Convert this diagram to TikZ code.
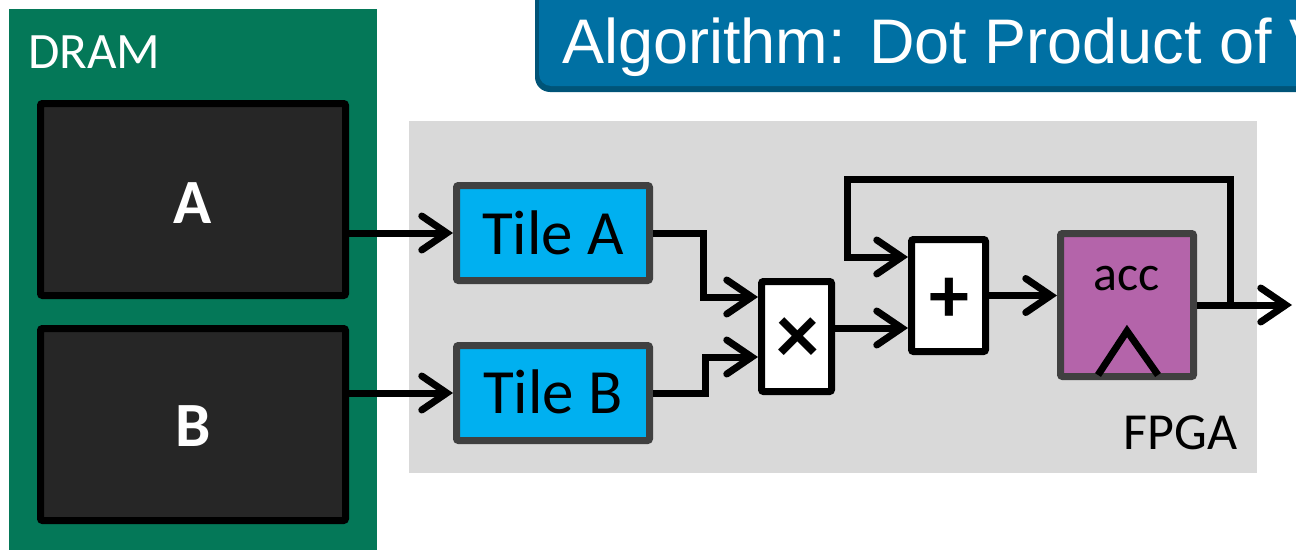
\documentclass[tikz,border=0pt]{standalone}
\usepackage{fontspec}
\setmainfont{Carlito}
\newfontfamily\titlefont{Liberation Sans}
\usetikzlibrary{arrows.meta,calc}

\definecolor{dramgreen}{RGB}{4,120,88}
\definecolor{memfill}{RGB}{38,38,38}
\definecolor{fpgagray}{RGB}{217,217,217}
\definecolor{tileblue}{RGB}{0,176,240}
\definecolor{edgegray}{RGB}{64,64,64}
\definecolor{accpurple}{RGB}{180,100,170}
\definecolor{titleblue}{RGB}{0,112,163}
\definecolor{titleedge}{RGB}{0,84,120}

\newcommand{\fsz}[1]{\fontsize{#1pt}{#1pt}\selectfont}

\begin{document}
\begin{tikzpicture}[x=1pt,y=-1pt,
  wire/.style={line width=7pt},
  arr/.style={wire,-{Straight Barb[length=25pt,width=34pt,line cap=round]}},
  region/.style={inner sep=0pt,anchor=north west},
  memblock/.style={draw=black,fill=memfill,line width=7pt,rounded corners=2pt,
    minimum width=305pt,minimum height=192pt,inner sep=0pt},
  tilebox/.style={draw=edgegray,fill=tileblue,line width=7pt,rounded corners=2pt,
    minimum width=193pt,minimum height=95pt,inner sep=0pt},
  opbox/.style={draw=black,fill=white,line width=7pt,rounded corners=2pt,inner sep=0pt},
  lbl/.style={inner sep=0pt,anchor=base},
]
\useasboundingbox (0,0) rectangle (1296,549);

% title banner, running off the top and right edges
\fill[titleedge,rounded corners=15pt] (535,-40) rectangle (1340,92);
\fill[titleblue,rounded corners=12pt] (539,-40) rectangle (1340,86);
\node[inner sep=0pt,anchor=base west,text=white,font=\titlefont\fsz{63}]
  (title) at (562,63) {Algorithm: Dot Product of V};

% memory and fabric regions
\node[region,fill=dramgreen,minimum width=368pt,minimum height=560pt] (dram) at (9,9) {};
\node[region,fill=fpgagray,minimum width=848pt,minimum height=352pt] (fpga) at (409,121) {};
\node[inner sep=0pt,anchor=base west,text=white,font=\fsz{51}] (dramlbl) at (28,68) {DRAM};
\node[lbl,font=\fsz{52}] (fpgalbl) at (1180.5,449) {FPGA};

% matrices in DRAM
\node[memblock] (memA) at (193,199.5) {};
\node[memblock] (memB) at (193,424.5) {};
\node[lbl,text=white,font=\bfseries\fsz{63}] (memAlbl) at (193,223) {A};
\node[lbl,text=white,font=\bfseries\fsz{63}] (memBlbl) at (193,446) {B};

% on-chip tiles
\node[tilebox] (tileA) at (553,233) {};
\node[tilebox] (tileB) at (553,393) {};
\node[lbl,font=\fsz{63}] (tileAlbl) at (553,254) {Tile A};
\node[lbl,font=\fsz{63}] (tileBlbl) at (553,413) {Tile B};

% multiply, add, accumulate
\node[opbox,minimum width=70pt,minimum height=110pt] (mul) at (796.5,336.5) {};
\node[opbox,minimum width=74pt,minimum height=112pt] (add) at (948.5,295.5) {};
\node[draw=edgegray,fill=accpurple,line width=7pt,rounded corners=2pt,inner sep=0pt,
  minimum width=133pt,minimum height=143pt] (acc) at (1127,305) {};
\node[inner sep=0pt,font=\bfseries\fsz{86}] (mulsign) at (797.5,340.5) {×};
\node[inner sep=0pt,font=\bfseries\fsz{80}] (addsign) at (949,300) {+};
\node[lbl,font=\fsz{50}] (acclbl) at (1127,290) {acc};

% clock input of the register
\draw[line width=7pt,line cap=butt,line join=miter]
  ($(acc.center)+(-29,70)$) -- ++(29,-44) -- ++(31,44);

% port positions
\coordinate (mulin1) at ($(mul.west)+(0,-39.5)$);
\coordinate (mulin2) at ($(mul.west)+(0,20.5)$);
\coordinate (addin1) at ($(add.west)+(0,-38.5)$);
\coordinate (addin2) at ($(add.west)+(0,32.5)$);
\coordinate (tap) at (acc.east -| 1230,0);
\coordinate (fbtop) at (847,179);
\coordinate (out) at (1292,305);

% data paths
\draw[arr] (tileA.west -| memA.east) -- (tileA.west);
\draw[arr] (tileB.west -| memB.east) -- (tileB.west);
\draw[arr] (tileA.east) -- ++(50,0) |- (mulin1);
\draw[arr] (tileB.east) -- ++(52,0) |- (mulin2);
\draw[arr] (mul.east |- addin2) -- (addin2);
\draw[arr] (add.east) -- (add.east -| acc.west);
\draw[arr] (acc.east) -- (out);
\draw[arr] (tap) |- (fbtop) |- (addin1);
\end{tikzpicture}
\end{document}
